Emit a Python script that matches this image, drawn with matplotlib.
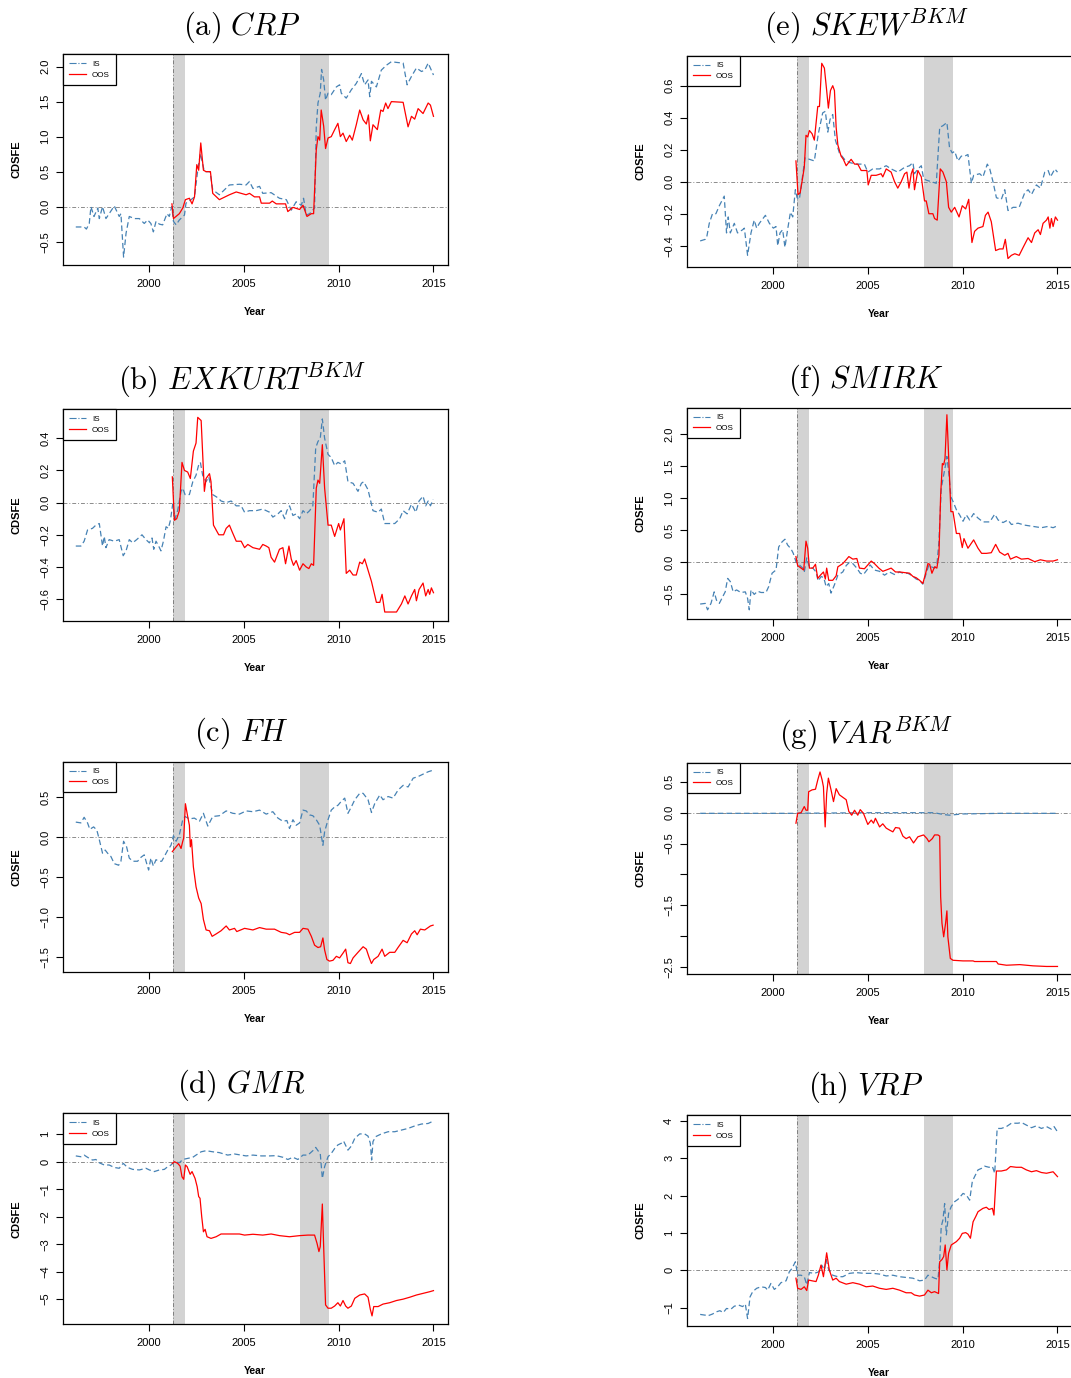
import matplotlib
matplotlib.use("Agg")
import matplotlib.pyplot as plt
from matplotlib.lines import Line2D

plt.rcParams['font.family'] = ['Liberation Sans', 'DejaVu Sans']
plt.rcParams['mathtext.fontset'] = 'cm'

W, H = 1071, 1378

# ---- data (year, CDSFE) ----
crp_is = [(1996.14, -0.29), (1996.58, -0.29), (1996.7, -0.32), (1996.85, -0.24), (1996.94, 0.0), (1997.1, -0.14),
          (1997.3, -0.02), (1997.38, -0.17), (1997.55, 0.0), (1997.73, -0.17), (1997.9, -0.1), (1998.17, 0.01),
          (1998.43, -0.14), (1998.52, -0.1), (1998.66, -0.72), (1998.79, -0.38), (1998.96, -0.14), (1999.23, -0.17),
          (1999.49, -0.17), (1999.75, -0.24), (1999.93, -0.19), (2000.1, -0.24), (2000.23, -0.36), (2000.37, -0.21),
          (2000.55, -0.25), (2000.72, -0.26), (2000.95, -0.1), (2001.07, -0.14), (2001.2, 0.0), (2001.29, -0.21),
          (2001.43, -0.26), (2001.6, -0.19), (2001.87, -0.12), (2001.95, 0.05), (2002.22, 0.1), (2002.4, 0.14),
          (2002.57, 0.52), (2002.71, 0.76), (2002.92, 0.5), (2003.22, 0.5), (2003.36, 0.24), (2003.71, 0.17),
          (2004.24, 0.31), (2004.77, 0.32), (2005.12, 0.31), (2005.3, 0.36), (2005.48, 0.26), (2005.83, 0.29),
          (2006.0, 0.19), (2006.44, 0.2), (2006.88, 0.12), (2007.24, 0.1), (2007.5, -0.05), (2007.76, 0.07),
          (2008.03, 0.02), (2008.15, 0.12), (2008.29, -0.12), (2008.47, -0.1), (2008.73, -0.02), (2008.82, 1.14),
          (2008.91, 1.48), (2009.03, 1.62), (2009.1, 1.96), (2009.21, 1.81), (2009.31, 1.52), (2009.44, 1.62),
          (2009.61, 1.6), (2009.88, 1.71), (2010.05, 1.74), (2010.14, 1.62), (2010.4, 1.55), (2010.67, 1.67),
          (2010.93, 1.76), (2011.2, 1.9), (2011.37, 1.74), (2011.55, 1.81), (2011.64, 1.57), (2011.73, 1.79),
          (2011.99, 1.71), (2012.25, 1.95), (2012.52, 2.02), (2012.78, 2.07), (2013.05, 2.06), (2013.4, 2.05),
          (2013.61, 1.74), (2013.84, 1.86), (2014.1, 1.98), (2014.37, 1.93), (2014.54, 1.95), (2014.72, 2.05),
          (2015.0, 1.88)]
crp_oos = [(2001.21, 0.04), (2001.29, -0.17), (2001.6, -0.1), (2001.78, -0.02), (2001.92, 0.1), (2002.13, 0.12),
           (2002.27, 0.04), (2002.4, 0.14), (2002.52, 0.6), (2002.62, 0.52), (2002.73, 0.91), (2002.87, 0.52),
           (2003.01, 0.5), (2003.24, 0.5), (2003.36, 0.19), (2003.71, 0.1), (2004.24, 0.17), (2004.6, 0.21),
           (2005.12, 0.17), (2005.3, 0.19), (2005.56, 0.14), (2005.83, 0.14), (2005.92, 0.05), (2006.36, 0.05),
           (2006.5, 0.08), (2006.71, 0.04), (2007.2, 0.04), (2007.32, -0.07), (2007.59, -0.01), (2007.94, -0.04),
           (2008.12, 0.02), (2008.33, -0.14), (2008.56, -0.1), (2008.68, -0.1), (2008.82, 0.81), (2008.91, 1.0),
           (2009.0, 0.95), (2009.08, 1.38), (2009.21, 1.15), (2009.31, 0.83), (2009.44, 0.98), (2009.61, 1.0),
           (2009.79, 1.1), (2009.96, 1.19), (2010.09, 1.0), (2010.23, 1.05), (2010.4, 0.93), (2010.58, 1.02),
           (2010.72, 0.95), (2010.93, 1.17), (2011.11, 1.38), (2011.29, 1.24), (2011.46, 1.18), (2011.57, 1.31),
           (2011.67, 0.94), (2011.81, 1.17), (2012.04, 1.1), (2012.22, 1.38), (2012.34, 1.36), (2012.48, 1.48),
           (2012.6, 1.4), (2012.78, 1.5), (2013.4, 1.49), (2013.66, 1.14), (2013.84, 1.29), (2014.01, 1.25),
           (2014.19, 1.4), (2014.45, 1.33), (2014.72, 1.48), (2014.84, 1.45), (2015.0, 1.29)]

exkurt_is = [(1996.14, -0.27), (1996.41, -0.27), (1996.58, -0.24), (1996.76, -0.17), (1997.02, -0.16),
             (1997.2, -0.14), (1997.38, -0.13), (1997.55, -0.27), (1997.64, -0.21), (1997.73, -0.28),
             (1997.9, -0.23), (1998.17, -0.24), (1998.43, -0.23), (1998.64, -0.33), (1998.79, -0.3),
             (1998.96, -0.23), (1999.14, -0.25), (1999.35, -0.23), (1999.63, -0.2), (1999.84, -0.23),
             (2000.02, -0.25), (2000.16, -0.22), (2000.25, -0.29), (2000.37, -0.24), (2000.51, -0.27),
             (2000.63, -0.3), (2000.76, -0.24), (2000.9, -0.15), (2001.02, -0.16), (2001.13, -0.11),
             (2001.25, -0.01), (2001.37, -0.1), (2001.51, -0.05), (2001.69, 0.07), (2001.78, 0.09),
             (2001.9, 0.05), (2002.13, 0.05), (2002.31, 0.13), (2002.48, 0.17), (2002.61, 0.23), (2002.71, 0.25),
             (2002.83, 0.17), (2003.01, 0.13), (2003.15, 0.16), (2003.36, 0.05), (2003.63, 0.03), (2003.8, 0.01),
             (2004.07, 0.0), (2004.33, 0.01), (2004.6, -0.02), (2004.86, -0.02), (2005.04, -0.06), (2005.3, -0.05),
             (2005.65, -0.05), (2006.0, -0.04), (2006.36, -0.06), (2006.53, -0.09), (2006.8, -0.07),
             (2006.97, -0.05), (2007.15, -0.1), (2007.27, -0.05), (2007.41, -0.02), (2007.59, -0.08),
             (2007.76, -0.07), (2007.94, -0.1), (2008.12, -0.05), (2008.29, -0.07), (2008.47, -0.05),
             (2008.64, -0.02), (2008.79, 0.34), (2008.91, 0.38), (2009.03, 0.4), (2009.14, 0.52), (2009.26, 0.4),
             (2009.44, 0.3), (2009.61, 0.28), (2009.79, 0.23), (2009.96, 0.25), (2010.14, 0.24), (2010.32, 0.26),
             (2010.49, 0.13), (2010.76, 0.12), (2011.02, 0.07), (2011.2, 0.12), (2011.32, 0.13), (2011.55, 0.08),
             (2011.81, -0.05), (2012.08, -0.06), (2012.25, -0.04), (2012.43, -0.13), (2012.69, -0.13),
             (2012.96, -0.13), (2013.22, -0.1), (2013.4, -0.05), (2013.61, -0.07), (2013.84, -0.01),
             (2014.07, -0.06), (2014.24, 0.01), (2014.45, 0.04), (2014.59, -0.02), (2014.72, 0.01),
             (2014.84, -0.02), (2014.98, 0.02)]
exkurt_oos = [(2001.23, 0.16), (2001.34, -0.11), (2001.46, -0.1), (2001.6, -0.05), (2001.74, 0.25), (2001.87, 0.2),
              (2002.04, 0.19), (2002.18, 0.15), (2002.34, 0.32), (2002.48, 0.37), (2002.57, 0.53), (2002.75, 0.51),
              (2002.92, 0.07), (2003.01, 0.15), (2003.19, 0.18), (2003.27, 0.13), (2003.4, -0.14), (2003.54, -0.17),
              (2003.68, -0.2), (2003.93, -0.2), (2004.07, -0.16), (2004.24, -0.14), (2004.38, -0.18),
              (2004.6, -0.24), (2004.86, -0.24), (2005.04, -0.28), (2005.21, -0.26), (2005.48, -0.28),
              (2005.83, -0.29), (2006.0, -0.26), (2006.18, -0.27), (2006.32, -0.28), (2006.44, -0.34),
              (2006.62, -0.37), (2006.88, -0.29), (2007.06, -0.28), (2007.2, -0.38), (2007.38, -0.27),
              (2007.5, -0.35), (2007.62, -0.39), (2007.76, -0.36), (2007.94, -0.42), (2008.12, -0.38),
              (2008.29, -0.4), (2008.43, -0.41), (2008.56, -0.38), (2008.68, -0.39), (2008.82, 0.09),
              (2008.91, 0.14), (2009.0, 0.12), (2009.14, 0.36), (2009.26, 0.09), (2009.44, -0.14), (2009.61, -0.14),
              (2009.79, -0.21), (2010.0, -0.13), (2010.09, -0.17), (2010.28, -0.1), (2010.4, -0.44), (2010.58, -0.42),
              (2010.76, -0.45), (2010.93, -0.45), (2011.11, -0.37), (2011.25, -0.38), (2011.37, -0.35),
              (2011.73, -0.49), (2011.99, -0.62), (2012.17, -0.62), (2012.29, -0.57), (2012.43, -0.68),
              (2012.78, -0.68), (2013.05, -0.68), (2013.31, -0.63), (2013.49, -0.58), (2013.66, -0.63),
              (2013.84, -0.58), (2014.01, -0.54), (2014.1, -0.61), (2014.24, -0.54), (2014.45, -0.5),
              (2014.59, -0.58), (2014.72, -0.54), (2014.8, -0.57), (2014.89, -0.53), (2015.0, -0.56)]

fh_is = [(1996.14, 0.19), (1996.41, 0.18), (1996.58, 0.25), (1996.76, 0.18), (1996.88, 0.1), (1997.08, 0.13),
         (1997.25, 0.09), (1997.38, -0.03), (1997.55, -0.2), (1997.69, -0.16), (1997.82, -0.2), (1997.99, -0.24),
         (1998.17, -0.33), (1998.4, -0.35), (1998.52, -0.3), (1998.66, -0.05), (1998.82, -0.12), (1998.96, -0.26),
         (1999.14, -0.3), (1999.4, -0.3), (1999.58, -0.25), (1999.75, -0.22), (1999.88, -0.33), (1999.98, -0.41),
         (2000.1, -0.26), (2000.23, -0.36), (2000.37, -0.28), (2000.51, -0.3), (2000.67, -0.3), (2000.81, -0.24),
         (2000.99, -0.16), (2001.16, -0.1), (2001.29, 0.02), (2001.43, -0.05), (2001.6, 0.03), (2001.78, 0.22),
         (2001.9, 0.26), (2002.13, 0.23), (2002.39, 0.24), (2002.66, 0.2), (2002.87, 0.3), (2003.1, 0.14),
         (2003.36, 0.26), (2003.71, 0.27), (2004.07, 0.33), (2004.42, 0.3), (2004.77, 0.29), (2005.12, 0.33),
         (2005.48, 0.32), (2005.83, 0.34), (2006.18, 0.29), (2006.53, 0.32), (2006.8, 0.24), (2007.06, 0.2),
         (2007.27, 0.21), (2007.41, 0.11), (2007.59, 0.22), (2007.76, 0.15), (2007.94, 0.18), (2008.12, 0.34),
         (2008.29, 0.33), (2008.47, 0.28), (2008.64, 0.27), (2008.82, 0.22), (2009.0, 0.15), (2009.08, 0.03),
         (2009.17, -0.1), (2009.26, 0.07), (2009.44, 0.22), (2009.61, 0.34), (2009.79, 0.38), (2009.96, 0.4),
         (2010.14, 0.45), (2010.32, 0.49), (2010.49, 0.3), (2010.67, 0.38), (2010.85, 0.47), (2011.11, 0.55),
         (2011.29, 0.55), (2011.55, 0.47), (2011.73, 0.31), (2011.9, 0.42), (2012.17, 0.53), (2012.34, 0.47),
         (2012.61, 0.51), (2012.87, 0.49), (2013.13, 0.59), (2013.4, 0.65), (2013.66, 0.63), (2013.93, 0.74),
         (2014.19, 0.76), (2014.45, 0.79), (2014.72, 0.82), (2014.98, 0.84)]
fh_oos = [(2001.23, -0.18), (2001.43, -0.12), (2001.57, -0.08), (2001.69, -0.14), (2001.78, -0.05), (2001.83, -0.01),
          (2001.92, 0.42), (2002.04, 0.26), (2002.13, 0.15), (2002.18, -0.12), (2002.24, -0.03), (2002.34, -0.37),
          (2002.48, -0.62), (2002.62, -0.76), (2002.75, -0.83), (2002.87, -1.03), (2003.01, -1.16),
          (2003.19, -1.17), (2003.33, -1.24), (2003.54, -1.21), (2003.8, -1.17), (2004.07, -1.11),
          (2004.24, -1.16), (2004.51, -1.14), (2004.63, -1.18), (2005.04, -1.14), (2005.48, -1.16),
          (2005.83, -1.13), (2006.18, -1.15), (2006.62, -1.15), (2006.97, -1.19), (2007.24, -1.2),
          (2007.41, -1.22), (2007.68, -1.19), (2007.94, -1.19), (2008.12, -1.14), (2008.38, -1.15),
          (2008.56, -1.24), (2008.73, -1.35), (2008.91, -1.38), (2009.05, -1.37), (2009.17, -1.26),
          (2009.26, -1.41), (2009.38, -1.53), (2009.52, -1.55), (2009.7, -1.54), (2009.88, -1.49),
          (2010.05, -1.51), (2010.23, -1.45), (2010.37, -1.4), (2010.49, -1.57), (2010.62, -1.58),
          (2010.76, -1.51), (2011.02, -1.44), (2011.29, -1.37), (2011.46, -1.4), (2011.6, -1.5), (2011.73, -1.58),
          (2011.85, -1.53), (2012.08, -1.49), (2012.29, -1.4), (2012.43, -1.49), (2012.69, -1.44),
          (2012.96, -1.44), (2013.13, -1.38), (2013.4, -1.29), (2013.61, -1.32), (2013.84, -1.21),
          (2014.01, -1.17), (2014.14, -1.22), (2014.31, -1.15), (2014.54, -1.16), (2014.72, -1.13),
          (2014.84, -1.11), (2014.98, -1.1)]

gmr_is = [(1996.14, 0.21), (1996.41, 0.18), (1996.58, 0.24), (1996.76, 0.16), (1997.02, 0.06), (1997.2, 0.08),
          (1997.38, -0.04), (1997.64, -0.12), (1997.9, -0.12), (1998.17, -0.21), (1998.43, -0.24), (1998.64, -0.06),
          (1998.87, -0.21), (1999.14, -0.28), (1999.49, -0.3), (1999.84, -0.24), (2000.02, -0.3), (2000.28, -0.36),
          (2000.55, -0.3), (2000.81, -0.28), (2000.99, -0.18), (2001.16, -0.12), (2001.34, 0.0), (2001.6, -0.04),
          (2001.78, 0.08), (2002.04, 0.12), (2002.31, 0.16), (2002.48, 0.24), (2002.75, 0.36), (2003.01, 0.4),
          (2003.36, 0.36), (2003.71, 0.33), (2004.15, 0.24), (2004.51, 0.28), (2004.86, 0.24), (2005.12, 0.21),
          (2005.48, 0.24), (2005.92, 0.21), (2006.36, 0.21), (2006.71, 0.22), (2007.06, 0.16), (2007.32, 0.08),
          (2007.59, 0.16), (2007.85, 0.08), (2008.12, 0.24), (2008.38, 0.24), (2008.64, 0.4), (2008.79, 0.52),
          (2008.91, 0.4), (2009.03, 0.3), (2009.14, -0.61), (2009.26, -0.18), (2009.44, 0.18), (2009.61, 0.3),
          (2009.79, 0.48), (2009.96, 0.61), (2010.14, 0.67), (2010.26, 0.75), (2010.49, 0.42), (2010.67, 0.57),
          (2010.85, 0.85), (2011.11, 1.01), (2011.37, 1.01), (2011.55, 0.93), (2011.67, 0.67), (2011.74, 0.06),
          (2011.81, 0.73), (2011.95, 0.91), (2012.25, 1.01), (2012.61, 1.09), (2012.96, 1.09), (2013.31, 1.15),
          (2013.66, 1.21), (2014.01, 1.3), (2014.37, 1.37), (2014.72, 1.39), (2015.0, 1.48)]
gmr_oos = [(2001.23, -0.06), (2001.34, 0.0), (2001.51, -0.06), (2001.64, -0.16), (2001.74, -0.55), (2001.83, -0.64),
           (2001.92, -0.12), (2002.01, -0.18), (2002.17, -0.46), (2002.27, -0.36), (2002.43, -0.61),
           (2002.54, -0.91), (2002.62, -1.27), (2002.69, -1.33), (2002.78, -2.0), (2002.87, -2.55),
           (2002.96, -2.46), (2003.06, -2.73), (2003.27, -2.79), (2003.54, -2.73), (2003.8, -2.63),
           (2004.24, -2.63), (2004.77, -2.63), (2005.04, -2.67), (2005.48, -2.64), (2006.0, -2.67),
           (2006.44, -2.63), (2006.88, -2.69), (2007.41, -2.73), (2007.94, -2.69), (2008.38, -2.67),
           (2008.73, -2.67), (2008.86, -2.97), (2008.96, -3.27), (2009.03, -3.09), (2009.14, -1.54),
           (2009.21, -3.09), (2009.31, -5.21), (2009.44, -5.33), (2009.61, -5.33), (2009.79, -5.25),
           (2009.96, -5.13), (2010.09, -5.25), (2010.23, -5.05), (2010.37, -5.25), (2010.49, -5.33),
           (2010.67, -5.25), (2010.85, -4.97), (2011.11, -4.85), (2011.37, -4.81), (2011.55, -4.93),
           (2011.67, -5.37), (2011.76, -5.61), (2011.85, -5.27), (2012.08, -5.27), (2012.34, -5.18),
           (2012.69, -5.13), (2013.05, -5.05), (2013.4, -5.0), (2013.75, -4.93), (2014.1, -4.85),
           (2014.45, -4.79), (2014.8, -4.73), (2015.0, -4.69)]

skew_is = [(1996.16, -0.37), (1996.43, -0.36), (1996.5, -0.35), (1996.64, -0.26), (1996.81, -0.2), (1996.99, -0.2),
           (1997.17, -0.15), (1997.43, -0.09), (1997.55, -0.32), (1997.64, -0.22), (1997.75, -0.32),
           (1997.96, -0.26), (1998.13, -0.32), (1998.4, -0.3), (1998.49, -0.29), (1998.66, -0.46),
           (1998.84, -0.32), (1999.01, -0.24), (1999.14, -0.29), (1999.28, -0.26), (1999.6, -0.21),
           (1999.81, -0.26), (2000.02, -0.29), (2000.16, -0.28), (2000.25, -0.4), (2000.37, -0.32), (2000.51, -0.3),
           (2000.63, -0.41), (2000.77, -0.3), (2000.92, -0.19), (2001.04, -0.22), (2001.18, -0.05),
           (2001.27, -0.1), (2001.39, -0.11), (2001.53, 0.01), (2001.69, 0.15), (2001.92, 0.14), (2002.18, 0.13),
           (2002.39, 0.3), (2002.62, 0.43), (2002.76, 0.44), (2002.89, 0.31), (2003.01, 0.39), (2003.15, 0.42),
           (2003.29, 0.26), (2003.5, 0.18), (2003.77, 0.14), (2004.03, 0.12), (2004.38, 0.11), (2004.82, 0.11),
           (2005.0, 0.06), (2005.26, 0.08), (2005.62, 0.08), (2005.97, 0.1), (2006.23, 0.08), (2006.58, 0.06),
           (2006.94, 0.09), (2007.2, 0.1), (2007.38, 0.12), (2007.46, 0.05), (2007.64, 0.08), (2007.82, 0.1),
           (2007.94, 0.02), (2008.08, 0.01), (2008.35, 0.0), (2008.61, -0.01), (2008.79, 0.34), (2008.96, 0.35),
           (2009.17, 0.37), (2009.31, 0.21), (2009.45, 0.18), (2009.58, 0.19), (2009.75, 0.13), (2009.93, 0.16),
           (2010.11, 0.16), (2010.28, 0.17), (2010.46, -0.01), (2010.58, 0.04), (2010.9, 0.05), (2011.07, 0.03),
           (2011.3, 0.11), (2011.43, 0.08), (2011.6, 0.0), (2011.78, -0.1), (2012.04, -0.11), (2012.22, -0.05),
           (2012.39, -0.18), (2012.66, -0.16), (2012.98, -0.16), (2013.27, -0.07), (2013.45, -0.05),
           (2013.63, -0.08), (2013.89, -0.02), (2014.1, -0.04), (2014.33, 0.06), (2014.51, 0.07), (2014.63, 0.03),
           (2014.77, 0.06), (2014.86, 0.08), (2015.0, 0.06)]
skew_oos = [(2001.21, 0.13), (2001.32, -0.08), (2001.43, -0.07), (2001.53, 0.0), (2001.65, 0.09), (2001.74, 0.29),
            (2001.83, 0.28), (2001.92, 0.32), (2002.06, 0.3), (2002.18, 0.26), (2002.36, 0.47), (2002.45, 0.47),
            (2002.57, 0.74), (2002.71, 0.71), (2002.83, 0.57), (2002.92, 0.46), (2003.03, 0.57), (2003.15, 0.6),
            (2003.24, 0.57), (2003.33, 0.34), (2003.42, 0.23), (2003.59, 0.16), (2003.71, 0.14), (2003.86, 0.1),
            (2004.12, 0.14), (2004.3, 0.11), (2004.47, 0.11), (2004.65, 0.07), (2004.95, 0.07), (2005.02, -0.02),
            (2005.18, 0.04), (2005.44, 0.04), (2005.7, 0.05), (2005.79, 0.03), (2005.97, 0.08), (2006.23, 0.06),
            (2006.41, 0.0), (2006.58, -0.04), (2006.76, 0.0), (2006.94, 0.05), (2007.06, 0.06), (2007.17, -0.04),
            (2007.29, 0.05), (2007.38, 0.08), (2007.46, -0.05), (2007.64, 0.07), (2007.82, 0.03), (2007.99, -0.12),
            (2008.08, -0.12), (2008.22, -0.2), (2008.43, -0.2), (2008.52, -0.23), (2008.66, -0.24), (2008.82, 0.08),
            (2008.96, 0.06), (2009.14, 0.0), (2009.26, -0.16), (2009.4, -0.19), (2009.58, -0.16), (2009.81, -0.22),
            (2009.98, -0.15), (2010.16, -0.17), (2010.32, -0.11), (2010.49, -0.38), (2010.63, -0.31),
            (2010.81, -0.29), (2011.07, -0.28), (2011.2, -0.21), (2011.34, -0.19), (2011.51, -0.25),
            (2011.74, -0.43), (2011.95, -0.42), (2012.13, -0.42), (2012.25, -0.36), (2012.39, -0.48),
            (2012.57, -0.46), (2012.75, -0.45), (2012.98, -0.46), (2013.19, -0.41), (2013.45, -0.35),
            (2013.63, -0.38), (2013.8, -0.32), (2013.98, -0.3), (2014.1, -0.33), (2014.24, -0.26), (2014.42, -0.24),
            (2014.51, -0.22), (2014.6, -0.29), (2014.68, -0.23), (2014.77, -0.28), (2014.89, -0.22),
            (2015.0, -0.24)]

smirk_is = [(1996.16, -0.65), (1996.43, -0.64), (1996.55, -0.74), (1996.73, -0.64), (1996.9, -0.46),
            (1997.02, -0.59), (1997.17, -0.64), (1997.34, -0.54), (1997.48, -0.46), (1997.61, -0.25),
            (1997.75, -0.3), (1997.9, -0.46), (1998.08, -0.43), (1998.31, -0.47), (1998.54, -0.46),
            (1998.66, -0.56), (1998.75, -0.74), (1998.84, -0.43), (1999.01, -0.5), (1999.19, -0.45),
            (1999.37, -0.47), (1999.63, -0.47), (1999.77, -0.38), (1999.95, -0.17), (2000.07, -0.14),
            (2000.16, -0.12), (2000.3, 0.24), (2000.48, 0.32), (2000.63, 0.36), (2000.77, 0.27), (2000.95, 0.21),
            (2001.07, 0.14), (2001.21, 0.01), (2001.39, -0.04), (2001.57, -0.09), (2001.65, -0.15), (2001.78, 0.07),
            (2001.92, -0.08), (2002.1, -0.09), (2002.27, -0.15), (2002.38, -0.29), (2002.54, -0.22),
            (2002.68, -0.24), (2002.8, -0.38), (2002.94, -0.33), (2003.06, -0.48), (2003.24, -0.35),
            (2003.42, -0.2), (2003.68, -0.15), (2003.86, -0.05), (2004.03, 0.0), (2004.21, -0.02), (2004.42, -0.09),
            (2004.6, -0.17), (2004.77, -0.19), (2004.95, -0.12), (2005.12, -0.04), (2005.35, -0.12),
            (2005.62, -0.14), (2005.88, -0.2), (2006.14, -0.15), (2006.41, -0.19), (2006.67, -0.15),
            (2006.85, -0.17), (2007.11, -0.17), (2007.34, -0.21), (2007.55, -0.26), (2007.73, -0.28),
            (2007.9, -0.34), (2008.05, -0.2), (2008.22, -0.04), (2008.35, -0.07), (2008.52, -0.09),
            (2008.64, -0.04), (2008.75, 0.32), (2008.87, 1.15), (2009.0, 1.36), (2009.1, 1.52), (2009.17, 1.65),
            (2009.28, 1.36), (2009.38, 1.02), (2009.49, 0.95), (2009.67, 0.82), (2009.84, 0.74), (2010.02, 0.64),
            (2010.19, 0.74), (2010.37, 0.66), (2010.58, 0.76), (2010.81, 0.69), (2011.07, 0.63), (2011.43, 0.63),
            (2011.69, 0.75), (2011.87, 0.66), (2012.13, 0.62), (2012.39, 0.66), (2012.57, 0.59), (2012.92, 0.61),
            (2013.27, 0.58), (2013.71, 0.56), (2014.15, 0.54), (2014.51, 0.56), (2014.77, 0.54), (2015.0, 0.57)]
smirk_oos = [(2001.21, 0.09), (2001.3, -0.05), (2001.48, -0.09), (2001.62, -0.12), (2001.74, 0.33), (2001.83, 0.22),
             (2001.92, -0.09), (2002.1, -0.09), (2002.24, -0.03), (2002.36, -0.25), (2002.5, -0.2), (2002.66, -0.15),
             (2002.76, -0.26), (2002.83, -0.09), (2002.94, -0.28), (2003.15, -0.28), (2003.33, -0.21),
             (2003.42, -0.07), (2003.68, -0.02), (2003.86, 0.04), (2004.0, 0.09), (2004.21, 0.05), (2004.42, 0.06),
             (2004.56, -0.09), (2004.82, -0.1), (2005.0, -0.04), (2005.18, 0.02), (2005.35, -0.02),
             (2005.58, -0.09), (2005.79, -0.14), (2005.97, -0.12), (2006.23, -0.09), (2006.46, -0.15),
             (2006.67, -0.15), (2006.94, -0.16), (2007.2, -0.17), (2007.38, -0.22), (2007.55, -0.24),
             (2007.73, -0.28), (2007.9, -0.33), (2008.05, -0.17), (2008.17, -0.02), (2008.26, -0.03),
             (2008.38, -0.17), (2008.52, -0.07), (2008.64, -0.09), (2008.75, 0.11), (2008.84, 1.05), (2008.93, 1.54),
             (2009.0, 1.52), (2009.07, 1.62), (2009.17, 2.3), (2009.28, 1.52), (2009.38, 0.79), (2009.49, 0.79),
             (2009.67, 0.45), (2009.84, 0.45), (2009.98, 0.23), (2010.07, 0.37), (2010.28, 0.22), (2010.58, 0.35),
             (2010.81, 0.22), (2011.0, 0.14), (2011.25, 0.14), (2011.51, 0.15), (2011.74, 0.28), (2011.95, 0.16),
             (2012.22, 0.11), (2012.39, 0.14), (2012.52, 0.05), (2012.83, 0.09), (2013.1, 0.05), (2013.45, 0.06),
             (2013.8, 0.01), (2014.1, 0.04), (2014.42, 0.02), (2014.77, 0.02), (2015.0, 0.04)]

var_is = [(1996.16, -0.01), (2001.0, -0.01), (2005.0, 0.0), (2008.5, 0.0), (2009.0, -0.03), (2009.3, -0.04),
          (2010.0, -0.02), (2012.0, -0.01), (2015.0, -0.01)]
var_oos = [(2001.21, -0.17), (2001.3, -0.01), (2001.48, 0.0), (2001.65, 0.1), (2001.74, 0.04), (2001.83, 0.04),
           (2001.88, 0.34), (2002.06, 0.37), (2002.24, 0.38), (2002.36, 0.53), (2002.48, 0.66), (2002.59, 0.53),
           (2002.66, 0.42), (2002.75, -0.23), (2002.83, 0.31), (2002.92, 0.56), (2003.06, 0.37), (2003.19, 0.18),
           (2003.33, 0.39), (2003.5, 0.29), (2003.68, 0.25), (2003.86, 0.21), (2004.0, 0.02), (2004.15, -0.04),
           (2004.3, 0.04), (2004.47, -0.04), (2004.6, 0.05), (2004.77, -0.01), (2005.0, -0.19), (2005.18, -0.12),
           (2005.3, -0.17), (2005.4, -0.09), (2005.62, -0.23), (2005.79, -0.18), (2005.97, -0.25),
           (2006.14, -0.28), (2006.32, -0.31), (2006.46, -0.24), (2006.67, -0.25), (2006.85, -0.38),
           (2007.02, -0.42), (2007.2, -0.39), (2007.41, -0.49), (2007.64, -0.39), (2007.94, -0.36),
           (2008.12, -0.42), (2008.22, -0.47), (2008.4, -0.42), (2008.52, -0.36), (2008.7, -0.36),
           (2008.79, -0.38), (2008.84, -1.36), (2008.91, -1.79), (2009.0, -2.01), (2009.1, -1.79),
           (2009.17, -1.59), (2009.22, -2.01), (2009.35, -2.36), (2009.49, -2.39), (2010.02, -2.4),
           (2010.55, -2.4), (2010.63, -2.41), (2011.25, -2.41), (2011.78, -2.41), (2011.87, -2.45),
           (2012.31, -2.47), (2013.01, -2.46), (2013.71, -2.48), (2014.42, -2.49), (2015.0, -2.49)]

vrp_is = [(1996.16, -1.18), (1996.43, -1.2), (1996.55, -1.22), (1996.81, -1.17), (1997.02, -1.11), (1997.2, -1.08),
          (1997.38, -1.13), (1997.55, -1.02), (1997.78, -1.04), (1997.96, -0.96), (1998.19, -0.93),
          (1998.4, -0.97), (1998.54, -0.9), (1998.66, -1.29), (1998.79, -0.71), (1998.93, -0.57), (1999.14, -0.48),
          (1999.37, -0.44), (1999.6, -0.46), (1999.72, -0.53), (1999.89, -0.35), (2000.07, -0.51),
          (2000.25, -0.44), (2000.42, -0.33), (2000.69, -0.28), (2000.86, -0.04), (2001.0, 0.05), (2001.18, 0.23),
          (2001.3, -0.13), (2001.48, -0.13), (2001.65, -0.17), (2001.78, -0.39), (2001.92, -0.06),
          (2002.18, -0.08), (2002.41, -0.04), (2002.57, 0.14), (2002.71, 0.01), (2002.8, 0.29), (2002.94, 0.01),
          (2003.15, -0.13), (2003.42, -0.17), (2003.68, -0.17), (2004.03, -0.08), (2004.38, -0.06),
          (2004.82, -0.08), (2005.26, -0.08), (2005.62, -0.1), (2005.97, -0.15), (2006.32, -0.13),
          (2006.67, -0.17), (2007.02, -0.19), (2007.38, -0.21), (2007.73, -0.28), (2007.99, -0.26),
          (2008.17, -0.13), (2008.35, -0.17), (2008.52, -0.21), (2008.7, -0.24), (2008.79, 0.28), (2008.87, 1.17),
          (2008.96, 1.35), (2009.05, 1.79), (2009.14, 0.95), (2009.26, 1.53), (2009.4, 1.71), (2009.58, 1.84),
          (2009.75, 1.9), (2010.02, 2.06), (2010.19, 2.02), (2010.37, 1.88), (2010.51, 2.38), (2010.63, 2.51),
          (2010.81, 2.69), (2010.99, 2.73), (2011.16, 2.79), (2011.39, 2.76), (2011.57, 2.78), (2011.69, 2.6),
          (2011.82, 3.8), (2012.04, 3.8), (2012.31, 3.85), (2012.57, 3.94), (2012.92, 3.94), (2013.1, 3.96),
          (2013.36, 3.89), (2013.63, 3.82), (2013.89, 3.87), (2014.15, 3.8), (2014.42, 3.85), (2014.68, 3.78),
          (2014.82, 3.85), (2015.0, 3.71)]
vrp_oos = [(2001.21, -0.21), (2001.3, -0.48), (2001.48, -0.51), (2001.65, -0.44), (2001.78, -0.54), (2001.88, -0.26),
           (2002.06, -0.28), (2002.27, -0.3), (2002.39, -0.13), (2002.53, 0.14), (2002.66, -0.17), (2002.83, 0.47),
           (2002.97, 0.01), (2003.15, -0.26), (2003.33, -0.21), (2003.5, -0.3), (2003.86, -0.37), (2004.21, -0.33),
           (2004.56, -0.37), (2004.91, -0.44), (2005.26, -0.42), (2005.62, -0.48), (2005.97, -0.51),
           (2006.32, -0.48), (2006.67, -0.53), (2007.02, -0.6), (2007.29, -0.6), (2007.46, -0.66),
           (2007.73, -0.69), (2007.99, -0.66), (2008.17, -0.53), (2008.35, -0.6), (2008.52, -0.57),
           (2008.73, -0.62), (2008.79, 0.23), (2008.91, 0.29), (2009.0, 0.37), (2009.08, 0.68), (2009.17, 0.01),
           (2009.26, 0.46), (2009.4, 0.68), (2009.67, 0.77), (2009.84, 0.86), (2009.98, 0.99), (2010.16, 1.01),
           (2010.28, 0.97), (2010.41, 0.86), (2010.55, 1.3), (2010.69, 1.44), (2010.81, 1.57), (2011.07, 1.66),
           (2011.25, 1.69), (2011.39, 1.63), (2011.57, 1.66), (2011.65, 1.48), (2011.78, 2.66), (2012.04, 2.66),
           (2012.31, 2.69), (2012.52, 2.78), (2012.83, 2.76), (2013.1, 2.76), (2013.36, 2.69), (2013.63, 2.64),
           (2013.89, 2.67), (2014.15, 2.62), (2014.42, 2.6), (2014.77, 2.64), (2015.0, 2.51)]

recessions = [(2001.25, 2001.92), (2007.96, 2009.5)]
oos_start = 2001.25
x_ticks = [2000, 2005, 2010, 2015]

crp_yticks = [-0.5, 0.0, 0.5, 1.0, 1.5, 2.0]
exkurt_yticks = [-0.6, -0.4, -0.2, 0.0, 0.2, 0.4]
fh_yticks = [-1.5, -1.0, -0.5, 0.0, 0.5]
gmr_yticks = [-5, -4, -3, -2, -1, 0, 1]
skew_yticks = [-0.4, -0.2, 0.0, 0.2, 0.4, 0.6]
smirk_yticks = [-0.5, 0.0, 0.5, 1.0, 1.5, 2.0]
var_yticks = [-2.5, -2.0, -1.5, -1.0, -0.5, 0.0, 0.5]
var_ytick_labels = ["\u22122.5", "", "\u22121.5", "", "\u22120.5", "0.0", "0.5"]
vrp_yticks = [-1, 0, 1, 2, 3, 4]


def fmt(ticks, digits):
    return [f"{t:.{digits}f}".replace("-", "\u2212") for t in ticks]


fig = plt.figure(figsize=(W / 100, H / 100), dpi=100)


def draw_panel(box, title, title_xy, is_data, oos_data, yticks, ylabels, ylim):
    x0, y0, x1, y1 = box
    ax = fig.add_axes([x0 / W, 1 - y1 / H, (x1 - x0) / W, (y1 - y0) / H])
    for a, b in recessions:
        ax.axvspan(a, b, color="#D3D3D3", lw=0, zorder=0)
    ax.axvline(oos_start, color="#7f7f7f", lw=0.7, ls=(0, (4, 2, 1, 2)), zorder=1)
    ax.axhline(0, color="#8c8c8c", lw=0.7, ls=(0, (4, 2, 1, 2)), zorder=1)

    xs, ys = zip(*is_data)
    ax.plot(xs, ys, color="#4682B4", lw=0.9, dashes=(4.5, 2.5), zorder=2)
    xs, ys = zip(*oos_data)
    ax.plot(xs, ys, color="red", lw=0.9, zorder=3)

    ax.set_xlim(1995.45, 2015.75)
    ax.set_ylim(*ylim)
    ax.set_xticks(x_ticks)
    ax.set_yticks(yticks)
    ax.set_yticklabels(ylabels, rotation=90, va="center")
    ax.tick_params(direction="out", length=5, width=0.8, labelsize=8, colors="black")
    ax.tick_params(axis="x", pad=5)
    ax.tick_params(axis="y", pad=4)
    for sp in ax.spines.values():
        sp.set_linewidth(0.9)
        sp.set_color("black")

    ax.set_ylabel("CDSFE", fontsize=8, fontweight="bold", va="center")
    ax.yaxis.set_label_coords(-46.7 / (x1 - x0), 0.5)
    ax.set_xlabel("Year", fontsize=7.5, fontweight="bold", va="center")
    ax.xaxis.set_label_coords(0.5, -47 / (y1 - y0))

    # legend: IS drawn dash-dot in the key, as in the source figure
    handles = [Line2D([], [], color="#4682B4", lw=0.8, ls="-."),
               Line2D([], [], color="red", lw=0.9)]
    leg = ax.legend(handles, ["IS", "OOS"], loc="upper left", bbox_to_anchor=(0, 1),
                    borderaxespad=0, fontsize=5.8, handlelength=2.1, handletextpad=0.8,
                    borderpad=0.75, labelspacing=0.4, fancybox=False, framealpha=1,
                    edgecolor="black")
    leg.get_frame().set_linewidth(0.9)
    leg.set_zorder(5)

    fig.text(title_xy[0] / W, 1 - title_xy[1] / H, title, ha="center", va="baseline", fontsize=22)
    return ax


draw_panel((62.7, 54, 447.7, 265), r"$\mathrm{(a)}\ CRP$", (241.5, 34.3),
           crp_is, crp_oos, crp_yticks, fmt(crp_yticks, 1), (-0.833, 2.18))
draw_panel((62.7, 409.3, 447.7, 620.7), r"$\mathrm{(b)}\ EXKURT^{BKM}$", (241.5, 388.3),
           exkurt_is, exkurt_oos, exkurt_yticks, fmt(exkurt_yticks, 1), (-0.734, 0.58))
draw_panel((62.7, 761.7, 447.7, 972.3), r"$\mathrm{(c)}\ FH$", (241.5, 740.7),
           fh_is, fh_oos, fh_yticks, fmt(fh_yticks, 1), (-1.69, 0.946))
draw_panel((62.7, 1113.3, 447.7, 1324.3), r"$\mathrm{(d)}\ GMR$", (241.5, 1092.7),
           gmr_is, gmr_oos, gmr_yticks, fmt(gmr_yticks, 0), (-5.915, 1.76))

draw_panel((686.7, 55.7, 1071.7, 266.7), r"$\mathrm{(e)}\ SKEW^{BKM}$", (866, 35),
           skew_is, skew_oos, skew_yticks, fmt(skew_yticks, 1), (-0.531, 0.7875))
draw_panel((686.7, 407.7, 1071.7, 619), r"$\mathrm{(f)}\ SMIRK$", (866, 387.7),
           smirk_is, smirk_oos, smirk_yticks, fmt(smirk_yticks, 1), (-0.883, 2.41))
draw_panel((686.7, 762.7, 1071.7, 974.3), r"$\mathrm{(g)}\ VAR^{BKM}$", (866, 742.3),
           var_is, var_oos, var_yticks, var_ytick_labels, (-2.617, 0.81))
draw_panel((686.7, 1115, 1071.7, 1326), r"$\mathrm{(h)}\ VRP$", (866, 1094.3),
           vrp_is, vrp_oos, vrp_yticks, fmt(vrp_yticks, 0), (-1.49, 4.16))

fig.savefig("out.png", dpi=100)
